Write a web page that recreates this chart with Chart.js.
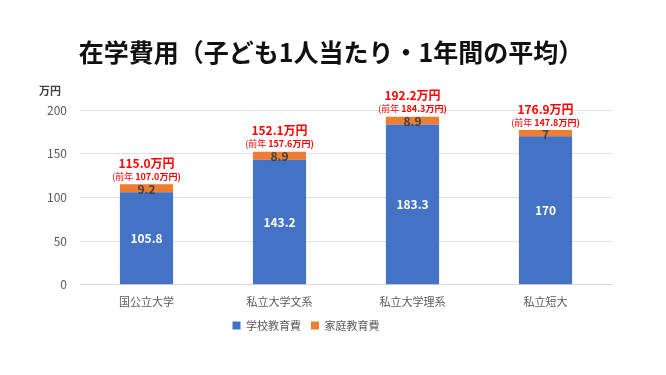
<!DOCTYPE html>
<html>
<head>
<meta charset="utf-8">
<script src="https://cdn.jsdelivr.net/npm/chart.js@4"></script>
<style>
  html, body { margin: 0; padding: 0; background: #fff; }
  #wrap { width: 666px; height: 375px; }
</style>
</head>
<body>
<div id="wrap"><canvas id="chart" width="666" height="375"></canvas></div>
<script>
// データ
const title = '在学費用（子ども1人当たり・1年間の平均）';
const categories = ['国公立大学', '私立大学文系', '私立大学理系', '私立短大'];
const schoolCost = [105.8, 143.2, 183.3, 170];
const homeCost = [9.2, 8.9, 8.9, 7];
const totalLabels = ['115.0', '152.1', '192.2', '176.9'];
const prevYear = ['107.0', '157.6', '184.3', '147.8'];
const yTicks = [0, 50, 100, 150, 200];

const FONT = '"Noto Sans CJK JP", "Noto Sans", sans-serif';

// ラベル描画
const labelPlugin = {
  id: 'labels',
  afterDatasetsDraw(chart) {
    const ctx = chart.ctx;
    const m0 = chart.getDatasetMeta(0);
    const m1 = chart.getDatasetMeta(1);
    ctx.save();
    ctx.textAlign = 'center';
    ctx.textBaseline = 'middle';

    // タイトル
    ctx.fillStyle = '#111111';
    ctx.font = 'bold 25px ' + FONT;
    ctx.fillText(title, chart.width / 2 - 2, 52);

    m0.data.forEach((bar, i) => {
      ctx.fillStyle = '#ffffff';
      ctx.font = 'bold 12px ' + FONT;
      ctx.fillText(String(schoolCost[i]), bar.x, (bar.y + bar.base) / 2);
    });
    m1.data.forEach((bar, i) => {
      ctx.fillStyle = '#404040';
      ctx.font = 'bold 12px ' + FONT;
      ctx.fillText(String(homeCost[i]), bar.x, (bar.y + bar.base) / 2 + 1);

      // 合計
      ctx.fillStyle = '#ff0000';
      ctx.font = 'bold 12px ' + FONT;
      ctx.fillText(totalLabels[i] + '万円', bar.x, bar.y - 21);

      // 前年
      const a = '(前年 ';
      const b = prevYear[i] + '万円)';
      ctx.font = '9px ' + FONT;
      const wa = ctx.measureText(a).width;
      ctx.font = 'bold 9px ' + FONT;
      const wb = ctx.measureText(b).width;
      const x0 = bar.x - (wa + wb) / 2;
      ctx.textAlign = 'left';
      ctx.font = '9px ' + FONT;
      ctx.fillText(a, x0, bar.y - 8);
      ctx.font = 'bold 9px ' + FONT;
      ctx.fillText(b, x0 + wa, bar.y - 8);
      ctx.textAlign = 'center';
    });
    // 単位
    const ys = chart.scales.y;
    ctx.fillStyle = '#404040';
    ctx.font = 'bold 11px ' + FONT;
    ctx.fillText('万円', ys.right - 30, chart.chartArea.top - 19);
    ctx.restore();
  }
};

const ctx = document.getElementById('chart').getContext('2d');
new Chart(ctx, {
  type: 'bar',
  data: {
    labels: categories,
    datasets: [
      {
        label: '学校教育費',
        data: schoolCost,
        backgroundColor: '#4472C4',
        categoryPercentage: 0.8,
        barPercentage: 0.5
      },
      {
        label: '家庭教育費',
        data: homeCost,
        backgroundColor: '#ED7D31',
        categoryPercentage: 0.8,
        barPercentage: 0.5
      }
    ]
  },
  options: {
    responsive: false,
    animation: false,
    layout: { padding: { left: 0, right: 54, top: 110, bottom: 34 } },
    plugins: {
      title: { display: false },
      legend: {
        position: 'bottom',
        labels: {
          boxWidth: 8,
          boxHeight: 8,
          color: '#595959',
          font: { family: FONT, size: 11 },
          padding: 10
        }
      },
      tooltip: { enabled: false }
    },
    scales: {
      x: {
        stacked: true,
        grid: { display: false },
        border: { color: '#d9d9d9' },
        ticks: { color: '#595959', font: { family: FONT, size: 11 }, padding: 2 }
      },
      y: {
        stacked: true,
        min: 0,
        max: 200,
        afterFit(axis) { axis.width = 80; },
        afterBuildTicks(axis) { axis.ticks = yTicks.map(v => ({ value: v })); },
        grid: { color: '#e0e0e0', drawTicks: false },
        border: { display: false },
        ticks: { color: '#595959', font: { family: FONT, size: 12 }, padding: 13 }
      }
    }
  },
  plugins: [labelPlugin]
});
</script>
</body>
</html>
